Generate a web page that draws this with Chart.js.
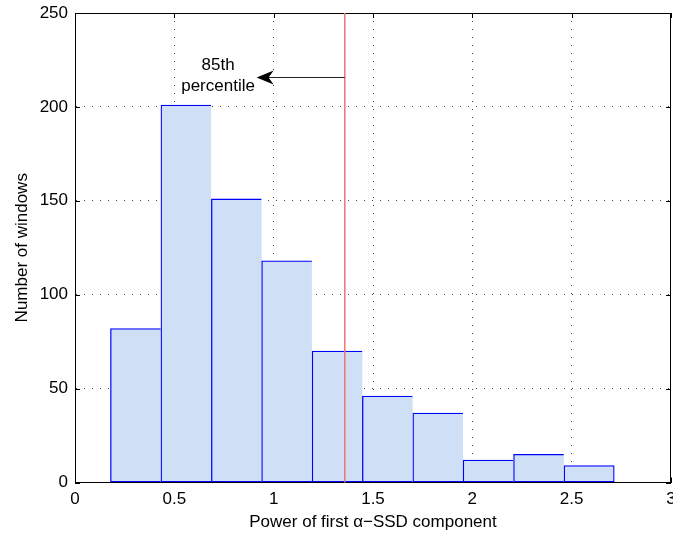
<!DOCTYPE html>
<html>
<head>
<meta charset="utf-8">
<script src="https://cdn.jsdelivr.net/npm/chart.js@4.4.1/dist/chart.umd.min.js"></script>
<style>
  html, body { margin: 0; padding: 0; background: #fff; }
  #wrap { width: 673px; height: 533px; position: relative; }
</style>
</head>
<body>
<div id="wrap"><canvas id="hist"></canvas></div>
<script>
// histogram: bin centres and counts
const binCenters = [0.305, 0.559, 0.813, 1.066, 1.320, 1.573, 1.827, 2.080, 2.334, 2.588];
const windowCounts = [82, 201, 151, 118, 70, 46, 37, 12, 15, 9];

const xTickValues = [0, 0.5, 1, 1.5, 2, 2.5, 3];
const yTickValues = [0, 50, 100, 150, 200, 250];

// 85th percentile marker and its note
const percentile85 = 1.358;
const arrowTipX = 0.914;
const arrowY = 216;
const noteX = 0.72;
const noteLines = ['85th', 'percentile'];
const noteLineY = [222, 211];

const FONT = "'Liberation Sans', Arial, Helvetica, sans-serif";
Chart.defaults.font.family = FONT;
Chart.defaults.font.size = 17;
Chart.defaults.color = '#000';

const dotted = [1, 7];

// grid only between the box edges
function gridColor(ctx) {
  const s = ctx.scale;
  if (!ctx.tick) return 'rgba(0,0,0,0)';
  const v = ctx.tick.value;
  return (v <= s.min || v >= s.max) ? 'rgba(0,0,0,0)' : '#444';
}

// top/right box lines and inward tick marks
const boxPlugin = {
  id: 'boxPlugin',
  beforeDatasetsDraw(chart) {
    const { ctx, chartArea: a, scales: { x, y } } = chart;
    ctx.save();
    ctx.strokeStyle = '#000';
    ctx.lineWidth = 1;
    ctx.beginPath();
    ctx.moveTo(a.left, a.top + 0.5);
    ctx.lineTo(a.right, a.top + 0.5);
    ctx.moveTo(a.right - 0.5, a.top);
    ctx.lineTo(a.right - 0.5, a.bottom);
    const len = 5;
    xTickValues.forEach(v => {
      const px = Math.round(x.getPixelForValue(v)) + 0.5;
      ctx.moveTo(px, a.top); ctx.lineTo(px, a.top + len);
      ctx.moveTo(px, a.bottom); ctx.lineTo(px, a.bottom - len);
    });
    yTickValues.forEach(v => {
      const py = Math.round(y.getPixelForValue(v)) + 0.5;
      ctx.moveTo(a.left, py); ctx.lineTo(a.left + len, py);
      ctx.moveTo(a.right, py); ctx.lineTo(a.right - len, py);
    });
    ctx.stroke();
    ctx.restore();
  }
};

// percentile line, arrow and note
const markerPlugin = {
  id: 'markerPlugin',
  afterDatasetsDraw(chart) {
    const { ctx, chartArea: a, scales: { x, y } } = chart;
    ctx.save();
    const px = x.getPixelForValue(percentile85);
    ctx.strokeStyle = '#f07474';
    ctx.lineWidth = 1.5;
    ctx.beginPath();
    ctx.moveTo(px, a.top);
    ctx.lineTo(px, a.bottom);
    ctx.stroke();

    const ay = Math.round(y.getPixelForValue(arrowY)) + 0.5;
    const tip = x.getPixelForValue(arrowTipX);
    ctx.strokeStyle = '#222';
    ctx.lineWidth = 1;
    ctx.beginPath();
    ctx.moveTo(px, ay);
    ctx.lineTo(tip + 10, ay);
    ctx.stroke();
    ctx.fillStyle = '#000';
    ctx.beginPath();
    ctx.moveTo(tip, ay);
    ctx.lineTo(tip + 17, ay - 7);
    ctx.lineTo(tip + 12, ay);
    ctx.lineTo(tip + 17, ay + 7);
    ctx.closePath();
    ctx.fill();

    ctx.font = '17px ' + FONT;
    ctx.textAlign = 'center';
    ctx.textBaseline = 'middle';
    const nx = x.getPixelForValue(noteX);
    noteLines.forEach((t, i) => ctx.fillText(t, nx, y.getPixelForValue(noteLineY[i])));
    ctx.restore();
  }
};

new Chart(document.getElementById('hist'), {
  type: 'bar',
  data: {
    datasets: [{
      data: binCenters.map((c, i) => ({ x: c, y: windowCounts[i] })),
      backgroundColor: '#cfe0f6',
      borderColor: '#0000ff',
      borderSkipped: false,
      borderWidth: ctx => ({ top: 1.3, left: 1.3, bottom: 1.3, right: ctx.dataIndex === binCenters.length - 1 ? 1.3 : 0 }),
      barPercentage: 1,
      categoryPercentage: 1
    }]
  },
  options: {
    responsive: true,
    maintainAspectRatio: false,
    animation: false,
    layout: { padding: { top: 13, right: 2, left: 0, bottom: 0 } },
    plugins: { legend: { display: false }, tooltip: { enabled: false } },
    scales: {
      x: {
        type: 'linear',
        offset: false,
        min: 0, max: 3,
        afterBuildTicks: s => { s.ticks = xTickValues.map(v => ({ value: v })); },
        afterFit: s => { s.height = 50.5; s.paddingRight = 0; s.paddingLeft = 0; },
        ticks: { padding: 7, maxRotation: 0, autoSkip: false, callback: v => String(v) },
        grid: { color: gridColor, drawTicks: false, lineWidth: 1, offset: false },
        border: { color: '#000', width: 1, dash: dotted },
        title: { display: true, text: 'Power of first \u03b1\u2212SSD component', padding: { top: 2, bottom: 0 } }
      },
      y: {
        min: 0, max: 250,
        afterBuildTicks: s => { s.ticks = yTickValues.map(v => ({ value: v })); },
        afterFit: s => { s.width = 75; s.paddingTop = 0; s.paddingBottom = 0; },
        ticks: { padding: 7, callback: v => String(v) },
        grid: { color: gridColor, drawTicks: false, lineWidth: 1 },
        border: { color: '#000', width: 1, dash: dotted },
        title: { display: true, text: 'Number of windows', padding: { top: 12, bottom: 0 } }
      }
    }
  },
  plugins: [boxPlugin, markerPlugin]
});
</script>
</body>
</html>
